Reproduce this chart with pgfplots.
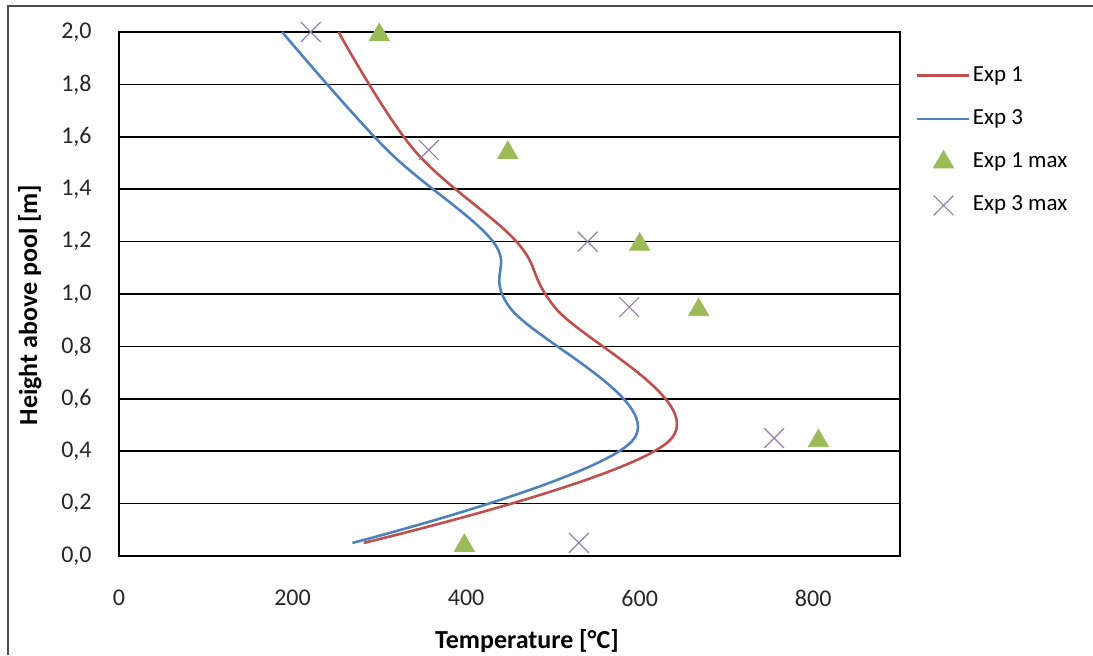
\documentclass[border=0pt]{standalone}
\usepackage{fontspec}
\setmainfont{Carlito}
\usepackage{pgfplots}
\pgfplotsset{compat=1.18}
\definecolor{exred}{HTML}{C0504D}
\definecolor{exblue}{HTML}{4F81BD}
\definecolor{exgreen}{HTML}{9BBB59}
\definecolor{excross}{RGB}{140,130,170}
\pgfplotsset{
  lineleg/.style={legend image code/.code={\draw[##1] (0pt,0pt) -- (26pt,0pt);}},
  markleg/.style={legend image code/.code={\path[draw=none,fill=none] (0pt,0pt) -- (26pt,0pt); \draw[##1] plot coordinates {(13.5pt,0pt)};}},
  trileg/.style={legend image code/.code={\path[draw=none,fill=none] (0pt,0pt) -- (26pt,0pt); \draw[##1] plot coordinates {(13.5pt,1.4pt)};}},
}
\begin{document}
\begin{tikzpicture}
\useasboundingbox (0,0) rectangle (546.5pt,327.5pt);
\draw[line width=1.2pt, black!70] (4pt,0) -- (4pt,324.5pt) -- (546.5pt,324.5pt);
\begin{axis}[
  at={(59.5pt,49.5pt)}, anchor=south west,
  scale only axis, width=390.5pt, height=262pt,
  xmin=0, xmax=900, ymin=0, ymax=2,
  xtick={0,200,400,600,800},
  ytick={0,0.2,0.4,0.6,0.8,1.0,1.2,1.4,1.6,1.8,2.0},
  ymajorgrids, grid style={black, line width=0.85pt},
  axis line style={black, line width=0.85pt},
  major tick length=0pt,
  /pgf/number format/assume math mode=true,
  yticklabel style={/pgf/number format/fixed, /pgf/number format/fixed zerofill, /pgf/number format/precision=1, /pgf/number format/use comma},
  xticklabel style={/pgf/number format/fixed, /pgf/number format/1000 sep={}},
  tick label style={font=\fontsize{12}{14}\selectfont, text=black!85},
  yticklabel style={anchor=east, inner sep=0pt, xshift=-13.5pt},
  xticklabel style={anchor=north, inner sep=0pt, yshift=-17pt},
  clip=false,
  legend cell align=left,
  legend style={draw=none, fill=none, at={(1.019,0.793)}, anchor=west, inner sep=0pt,
    row sep=8.15pt, font=\fontsize{11.5}{13}\selectfont,
    nodes={inner sep=1.5pt, text height=8pt, text depth=2.5pt}},
]
\addplot[exred, line width=1.3pt, smooth, tension=0.6, lineleg] coordinates {
(282,0.05) (637,0.45) (502,0.95) (458,1.2) (340,1.55) (253,2.0)
};
\addlegendentry{Exp 1}
\addplot[exblue, line width=1.3pt, smooth, tension=0.6, lineleg] coordinates {
(269,0.05) (594,0.45) (450,0.95) (431,1.2) (309,1.55) (188,2.0)
};
\addlegendentry{Exp 3}
\addplot[only marks, mark=triangle*, mark size=5.8pt, color=exgreen, mark options={yshift=-1.4pt}, trileg] coordinates {
(300,2.0) (448,1.55) (600,1.2) (668,0.95) (806,0.45) (398,0.05)
};
\addlegendentry{Exp 1 max}
\addplot[only marks, mark=x, mark size=7pt, color=excross, mark options={line width=0.6pt}, markleg] coordinates {
(221,2.0) (357,1.55) (540,1.2) (588,0.95) (755,0.45) (530,0.05)
};
\addlegendentry{Exp 3 max}
\end{axis}
\node[rotate=90, anchor=base, font=\bfseries\fontsize{13}{15}\selectfont] at (18.5pt,175pt) {Height above pool [m]};
\node[anchor=base, font=\bfseries\fontsize{13}{15}\selectfont] at (263.5pt,3.5pt) {Temperature [°C]};
\end{tikzpicture}
\end{document}
